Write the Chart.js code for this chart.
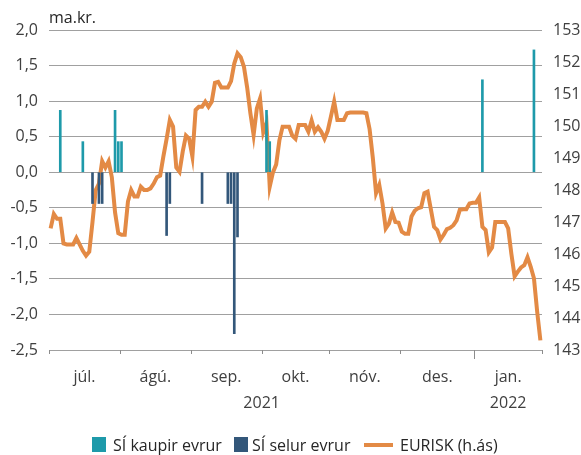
<!DOCTYPE html>
<html>
<head>
<meta charset="utf-8">
<script src="https://cdn.jsdelivr.net/npm/chart.js@4/dist/chart.umd.min.js"></script>
<style>
    body { margin: 0; background: #fff; font-family: "Open Sans", sans-serif; }
    #wrap { position: relative; width: 581px; height: 455px; }
    #unit { position: absolute; left: 49px; top: 6px; font-size: 16px; color: #262626; }
    .lg { position: absolute; top: 435px; font-size: 16px; color: #262626; line-height: 20px; white-space: nowrap; }
    .box { position: absolute; top: 437px; width: 14px; height: 15px; }
</style>
</head>
<body>
<div id="wrap">
    <canvas id="gjaldeyrir" width="581" height="455"></canvas>
    <div id="unit">ma.kr.</div>
    <div class="box" style="left:92px;background:#1e9aaa"></div>
    <div class="lg" style="left:113px">SÍ kaupir evrur</div>
    <div class="box" style="left:234px;background:#33577a"></div>
    <div class="lg" style="left:252px">SÍ selur evrur</div>
    <div class="box" style="left:364px;top:443px;width:29px;height:4px;background:#e38a45"></div>
    <div class="lg" style="left:400px">EURISK (h.ás)</div>
</div>
<script>
// mánuðir á x-ás og fjöldi viðskiptadaga í hverjum
const manudir = ['júl.', 'ágú.', 'sep.', 'okt.', 'nóv.', 'des.', 'jan.'];
const dagarIManudi = [22, 22, 22, 21, 22, 23, 21];
const ar = [{ texti: '2021', fra: 0, til: 6 }, { texti: '2022', fra: 6, til: 7 }];

// EURISK gengi, einn punktur á hvern viðskiptadag (1. júl. 2021 - 31. jan. 2022)
const eurisk = [
    146.8, 147.25, 147.1, 147.1, 146.33, 146.3, 146.3, 146.3, 146.5, 146.3,
    146.1, 145.95, 146.07, 147.0, 148.0, 148.2, 148.9, 148.7, 148.9, 148.4,
    147.3, 146.65, 146.6, 146.6, 147.64, 148.0, 147.8, 147.8, 148.1, 148.0,
    148.0, 148.05, 148.2, 148.4, 148.45, 149.05, 149.6, 150.19, 149.98, 148.7,
    148.57, 149.2, 149.7, 149.6, 149.05, 150.5, 150.6, 150.6, 150.76, 150.6,
    150.76, 151.35, 151.38, 151.2, 151.2, 151.2, 151.4, 151.95, 152.27, 152.15,
    151.85, 151.2, 150.4, 149.72, 150.55, 150.86, 149.8, 150.08, 148.1, 148.55,
    148.8, 149.55, 149.98, 149.98, 149.98, 149.7, 149.6, 150.03, 150.03, 150.03,
    149.82, 150.17, 149.82, 149.96, 149.82, 149.6, 149.85, 150.3, 150.76, 150.19,
    150.19, 150.19, 150.4, 150.42, 150.42, 150.42, 150.42, 150.42, 150.4, 149.9,
    149.0, 147.9, 148.16, 147.58, 146.8, 146.95, 147.3, 147.0, 146.98, 146.7,
    146.63, 146.63, 147.17, 147.35, 147.43, 147.46, 147.9, 147.95, 147.4, 146.85,
    146.75, 146.45, 146.6, 146.78, 146.82, 146.9, 147.05, 147.38, 147.4, 147.4,
    147.58, 147.6, 147.6, 147.77, 146.85, 146.75, 146.05, 146.2, 147.0, 147.0,
    147.0, 147.0, 146.8, 146.0, 145.3, 145.45, 145.58, 145.65, 145.9, 145.6,
    145.24, 144.2, 143.3
];

// inngrip SÍ (ma.kr.)
const kaupDagar = ['2021-07-06', '2021-07-15', '2021-07-29', '2021-07-30', '2021-08-02', '2021-10-04', '2021-10-05', '2022-01-05', '2022-01-27'];
const kaupUpphaed = [0.87, 0.43, 0.87, 0.43, 0.43, 0.87, 0.43, 1.30, 1.72];
const soluDagar = ['2021-07-20', '2021-07-22', '2021-07-23', '2021-08-20', '2021-08-23', '2021-09-06', '2021-09-16', '2021-09-17', '2021-09-20', '2021-09-21'];
const soluUpphaed = [-0.44, -0.44, -0.44, -0.89, -0.44, -0.44, -0.44, -0.44, -2.27, -0.91];

// viðskiptadagar (virkir dagar)
const dagar = [];
const d = new Date(Date.UTC(2021, 6, 1));
const endir = new Date(Date.UTC(2022, 0, 31));
while (d <= endir) {
    const vd = d.getUTCDay();
    if (vd !== 0 && vd !== 6) dagar.push(d.toISOString().slice(0, 10));
    d.setUTCDate(d.getUTCDate() + 1);
}

const kaup = dagar.map(x => { const k = kaupDagar.indexOf(x); return k >= 0 ? kaupUpphaed[k] : null; });
const sala = dagar.map(x => { const k = soluDagar.indexOf(x); return k >= 0 ? soluUpphaed[k] : null; });

const textLitur = '#404040';
const leturgerd = { family: 'Open Sans', size: 16 };

// mánaðaheiti, ártöl og hak á x-ás
const xAsPlugin = {
    id: 'xAs',
    afterDraw(chart) {
        const ctx = chart.ctx;
        const xs = chart.scales.x;
        const botn = chart.chartArea.bottom;
        const half = (xs.getPixelForValue(1) - xs.getPixelForValue(0)) / 2;
        const mork = [0];
        dagarIManudi.forEach(n => mork.push(mork[mork.length - 1] + n));
        const pix = mork.map(m => m < dagar.length ? xs.getPixelForValue(m) - half : xs.getPixelForValue(dagar.length - 1) + half);

        ctx.save();
        ctx.strokeStyle = '#8c8c8c';
        ctx.lineWidth = 1;
        pix.forEach((p, k) => {
            const x = Math.round(p) + 0.5;
            ctx.beginPath();
            ctx.moveTo(x, botn);
            ctx.lineTo(x, botn + (k === 6 ? 9 : 4));
            ctx.stroke();
        });
        ctx.fillStyle = textLitur;
        ctx.font = '16px "Open Sans"';
        ctx.textAlign = 'center';
        ctx.textBaseline = 'middle';
        manudir.forEach((m, k) => ctx.fillText(m, (pix[k] + pix[k + 1]) / 2, botn + 27));
        ar.forEach(a => ctx.fillText(a.texti, (pix[a.fra] + pix[a.til]) / 2, botn + 53));
        ctx.restore();
    }
};

new Chart(document.getElementById('gjaldeyrir'), {
    data: {
        labels: dagar,
        datasets: [
            {
                type: 'bar',
                label: 'SÍ kaupir evrur',
                data: kaup,
                backgroundColor: '#1e9aaa',
                barThickness: 2,
                grouped: false,
                yAxisID: 'y',
                order: 0
            },
            {
                type: 'bar',
                label: 'SÍ selur evrur',
                data: sala,
                backgroundColor: '#33577a',
                barThickness: 2,
                grouped: false,
                yAxisID: 'y',
                order: 0
            },
            {
                type: 'line',
                label: 'EURISK (h.ás)',
                data: eurisk,
                borderColor: '#e38a45',
                borderWidth: 4,
                pointRadius: 0,
                tension: 0,
                yAxisID: 'y2',
                order: 1
            }
        ]
    },
    options: {
        responsive: false,
        devicePixelRatio: 1,
        animation: false,
        layout: { padding: { top: 30, left: 0, right: 0, bottom: 0 } },
        plugins: {
            legend: { display: false },
            tooltip: { enabled: false }
        },
        scales: {
            x: {
                type: 'category',
                offset: true,
                grid: { display: false },
                border: { display: false },
                ticks: { display: false },
                afterFit: s => { s.height = 105; }
            },
            y: {
                position: 'left',
                min: -2.5,
                max: 2,
                ticks: {
                    stepSize: 0.5,
                    padding: 11,
                    color: textLitur,
                    font: leturgerd,
                    callback: v => v.toFixed(1).replace('.', ',')
                },
                grid: { color: '#a0a0a0', drawTicks: false },
                border: { display: false },
                afterFit: s => { s.width = 49; }
            },
            y2: {
                position: 'right',
                min: 143,
                max: 153,
                ticks: {
                    stepSize: 1,
                    padding: 11,
                    color: textLitur,
                    font: leturgerd
                },
                grid: { display: false, drawTicks: false },
                border: { display: false },
                afterFit: s => { s.width = 39; }
            }
        }
    },
    plugins: [xAsPlugin]
});
</script>
</body>
</html>
